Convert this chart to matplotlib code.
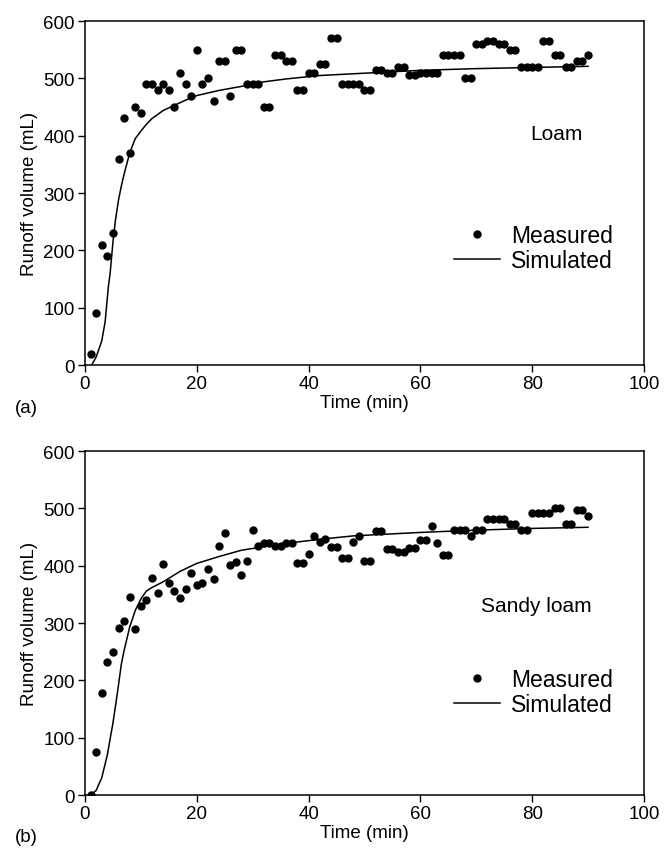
import matplotlib as mpl
import matplotlib.pyplot as plt

mpl.rcParams.update(
    {
        "font.family": ["Liberation Sans", "DejaVu Sans"],
        "font.size": 13.5,
        "axes.linewidth": 1.1,
        "xtick.major.size": 5,
        "ytick.major.size": 5,
        "xtick.major.width": 1.0,
        "ytick.major.width": 1.0,
        "xtick.major.pad": 2.5,
        "ytick.major.pad": 2.5,
        "xtick.labelsize": 13.5,
        "ytick.labelsize": 13.5,
    }
)

# (a) Loam
loam_time = list(range(1, 91))
loam_measured = [
    20, 90, 210, 190, 230, 360, 430, 370, 450, 440,
    490, 490, 480, 490, 480, 450, 510, 490, 470, 550,
    490, 500, 460, 530, 530, 470, 550, 550, 490, 490,
    490, 450, 450, 540, 540, 530, 530, 480, 480, 510,
    510, 525, 525, 570, 570, 490, 490, 490, 490, 480,
    480, 515, 515, 510, 510, 520, 520, 505, 505, 510,
    510, 510, 510, 540, 540, 540, 540, 500, 500, 560,
    560, 565, 565, 560, 560, 550, 550, 520, 520, 520,
    520, 565, 565, 540, 540, 520, 520, 530, 530, 540,
]
loam_sim_time = [1.2, 2, 3, 3.6, 4.2, 4.5, 5, 5.4, 6, 6.5, 7, 8, 9, 10, 11, 12, 14, 16,
                 18, 20, 24, 28, 32, 36, 42, 48, 54, 60, 70, 80, 90]
loam_simulated = [0, 14, 42, 75, 138, 160, 214, 249, 288, 312, 333, 370, 395, 408, 420,
                  430, 444, 453, 462, 470, 479, 486, 494, 499, 505, 508, 511, 514, 517,
                  519, 521]

# (b) Sandy loam
sandy_time = list(range(1, 91))
sandy_measured = [
    0, 75, 178, 232, 250, 292, 303, 345, 289, 329,
    341, 378, 353, 403, 369, 356, 344, 359, 387, 367,
    369, 394, 377, 434, 457, 402, 406, 384, 409, 462,
    434, 439, 439, 434, 434, 439, 439, 404, 404, 420,
    451, 442, 446, 432, 432, 413, 413, 442, 452, 409,
    409, 461, 461, 429, 429, 423, 423, 430, 430, 445,
    445, 470, 440, 419, 419, 462, 462, 462, 451, 462,
    462, 481, 481, 481, 481, 473, 473, 462, 462, 492,
    492, 492, 492, 500, 500, 472, 472, 498, 498, 487,
]
sandy_sim_time = [1, 2, 3, 4, 4.5, 5, 5.5, 6, 6.5, 7, 8, 9, 10, 11, 12, 14, 17, 20, 24,
                  28, 32, 36, 42, 48, 54, 60, 70, 80, 90]
sandy_simulated = [0, 8, 30, 70, 98, 125, 158, 192, 228, 252, 293, 322, 342, 356, 362,
                   372, 390, 404, 416, 427, 433, 439, 446, 452, 455, 458, 462, 465, 467]

panels = [
    ("(a)", "Loam", loam_time, loam_measured, loam_sim_time, loam_simulated),
    ("(b)", "Sandy loam", sandy_time, sandy_measured, sandy_sim_time, sandy_simulated),
]

fig = plt.figure(figsize=(6.67, 8.54), dpi=100)
rects = [[0.1274, 0.5714, 0.8381, 0.4028], [0.1274, 0.0679, 0.8381, 0.4028]]
note_pos = [(0.844, 0.674), (0.807, 0.552)]
legend_top = [0.41, 0.37]
tag_y = [0.522, 0.019]

for i, (tag, soil, t, meas, st, sim) in enumerate(panels):
    ax = fig.add_axes(rects[i])
    ax.plot(t, meas, "o", color="black", markersize=5, label="Measured")
    ax.plot(st, sim, "-", color="black", linewidth=1.1, label="Simulated")
    ax.set_xlim(0, 100)
    ax.set_ylim(0, 600)
    ax.set_xticks(range(0, 101, 20))
    ax.set_yticks(range(0, 601, 100))
    ax.tick_params(top=False, right=False, direction="out")
    ax.set_xlabel("Time (min)", labelpad=1)
    ax.set_ylabel("Runoff volume (mL)", labelpad=4)
    ax.text(note_pos[i][0], note_pos[i][1], soil, transform=ax.transAxes,
            ha="center", va="center", fontsize=15)
    ax.legend(loc="upper left", bbox_to_anchor=(0.66, legend_top[i]), frameon=False,
              fontsize=16.5, borderpad=0, borderaxespad=0, handlelength=2.0,
              handletextpad=0.5, labelspacing=0.1)
    fig.text(0.022, tag_y[i], tag, ha="left", va="center", fontsize=13.5)

fig.savefig("out.png", dpi=100)
